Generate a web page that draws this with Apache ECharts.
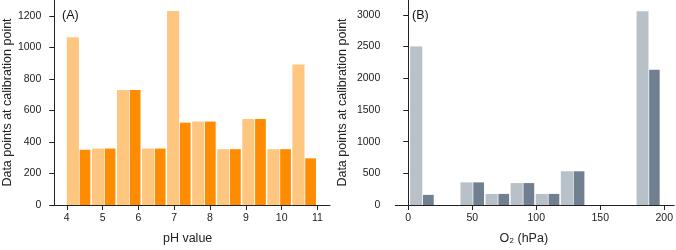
<!DOCTYPE html>
<html>
<head>
<meta charset="utf-8">
<script src="https://cdn.jsdelivr.net/npm/echarts@6/dist/echarts.min.js"></script>
<style>
  html, body { margin: 0; padding: 0; background: #fff; }
  #chart { width: 676px; height: 250px; }
</style>
</head>
<body>
<div id="chart"></div>
<script>
// panel A: pH calibration bins (bin start / end in pH units)
const phBinStart = [4.0, 4.7, 5.4, 6.1, 6.8, 7.5, 8.2, 8.9, 9.6, 10.3];
const phBinEnd = [4.7, 5.4, 6.1, 6.8, 7.5, 8.2, 8.9, 9.6, 10.3, 11.0];
const phLight = [1064, 358, 729, 358, 1231, 529, 354, 546, 354, 891];
const phDark = [350, 358, 729, 358, 522, 529, 354, 546, 354, 296];
const phTicks = [4, 5, 6, 7, 8, 9, 10, 11];
const phYTicks = [0, 200, 400, 600, 800, 1000, 1200];

// panel B: O2 calibration bins (hPa)
const o2BinStart = [1.5, 40.8, 60.4, 80.0, 99.6, 119.2, 178.4];
const o2BinEnd = [21.1, 60.4, 80.0, 99.6, 119.2, 138.8, 197.6];
const o2Light = [2503, 357, 175, 346, 175, 532, 3057];
const o2Dark = [160, 357, 175, 346, 175, 532, 2136];
const o2Ticks = [0, 50, 100, 150, 200];
const o2YTicks = [0, 500, 1000, 1500, 2000, 2500, 3000];

const FONT = '"Liberation Sans", Arial, Helvetica, sans-serif';
const chart = echarts.init(document.getElementById('chart'));

// light bar = left half of bin, dark bar = right half
const half = (starts, ends, vals, side) =>
  starts.map((s, i) => {
    const m = (s + ends[i]) / 2;
    return side === 0 ? [s, m, vals[i]] : [m, ends[i], vals[i]];
  });

const barRenderer = (color, insetL, insetR) => (params, api) => {
  const p0 = api.coord([api.value(0), 0]);
  const p1 = api.coord([api.value(1), api.value(2)]);
  return {
    type: 'rect',
    shape: {
      x: p0[0] + insetL,
      y: p1[1],
      width: p1[0] - p0[0] - insetL - insetR,
      height: p0[1] - p1[1]
    },
    style: { fill: color }
  };
};

const axisLine = { show: true, lineStyle: { color: '#222', width: 1 } };
const axisTick = (vals) => ({ show: true, length: 5, lineStyle: { color: '#222' }, customValues: vals });
const axisLabel = (vals, margin) => ({
  color: '#222', fontSize: 10.5, fontFamily: FONT, margin: margin, customValues: vals,
  formatter: (v) => String(v)
});
const nameStyle = (pad) => ({ color: '#222', fontSize: 12.5, fontFamily: FONT, padding: pad });

const option = {
  animation: false,
  backgroundColor: '#fff',
  grid: [
    { left: 50, top: 0, width: 280, bottom: 41.7 },
    { left: 395.3, top: 0, width: 280.7, bottom: 41.7 }
  ],
  xAxis: [
    {
      gridIndex: 0, type: 'value', min: 3.65, max: 11.35,
      axisLine: axisLine, axisTick: axisTick(phTicks), axisLabel: axisLabel(phTicks, 8),
      splitLine: { show: false },
      name: 'pH value', nameLocation: 'middle', nameGap: 27, nameTextStyle: nameStyle([0, 9, 0, 0])
    },
    {
      gridIndex: 1, type: 'value', min: -10.1, max: 207.8,
      axisLine: axisLine, axisTick: axisTick(o2Ticks), axisLabel: axisLabel(o2Ticks, 8),
      splitLine: { show: false },
      name: 'O₂ (hPa)', nameLocation: 'middle', nameGap: 27, nameTextStyle: nameStyle([0, 22, 0, 0])
    }
  ],
  yAxis: [
    {
      gridIndex: 0, type: 'value', min: 0, max: 1300,
      axisLine: axisLine, axisTick: axisTick(phYTicks), axisLabel: axisLabel(phYTicks, 13),
      splitLine: { show: false },
      name: 'Data points at calibration point', nameLocation: 'middle', nameGap: 38,
      nameTextStyle: nameStyle([0, 0, 0, 0])
    },
    {
      gridIndex: 1, type: 'value', min: 0, max: 3235,
      axisLine: axisLine, axisTick: axisTick(o2YTicks), axisLabel: axisLabel(o2YTicks, 15),
      splitLine: { show: false },
      name: 'Data points at calibration point', nameLocation: 'middle', nameGap: 46,
      nameTextStyle: nameStyle([0, 0, 0, 0])
    }
  ],
  graphic: [
    { type: 'text', x: 62, y: 16, style: { text: '(A)', fontSize: 12.5, fontFamily: FONT, fill: '#111', verticalAlign: 'middle' } },
    { type: 'text', x: 412, y: 16, style: { text: '(B)', fontSize: 12.5, fontFamily: FONT, fill: '#111', verticalAlign: 'middle' } }
  ],
  series: [
    {
      type: 'custom', xAxisIndex: 0, yAxisIndex: 0,
      renderItem: barRenderer('#FFC680', 0, 0.4),
      data: half(phBinStart, phBinEnd, phLight, 0)
    },
    {
      type: 'custom', xAxisIndex: 0, yAxisIndex: 0,
      renderItem: barRenderer('#FF8C00', 0.3, 1.5),
      data: half(phBinStart, phBinEnd, phDark, 1)
    },
    {
      type: 'custom', xAxisIndex: 1, yAxisIndex: 1,
      renderItem: barRenderer('#B8C0C8', 0, 0.4),
      data: half(o2BinStart, o2BinEnd, o2Light, 0)
    },
    {
      type: 'custom', xAxisIndex: 1, yAxisIndex: 1,
      renderItem: barRenderer('#708090', 0.3, 1.5),
      data: half(o2BinStart, o2BinEnd, o2Dark, 1)
    }
  ]
};

chart.setOption(option);
</script>
</body>
</html>
